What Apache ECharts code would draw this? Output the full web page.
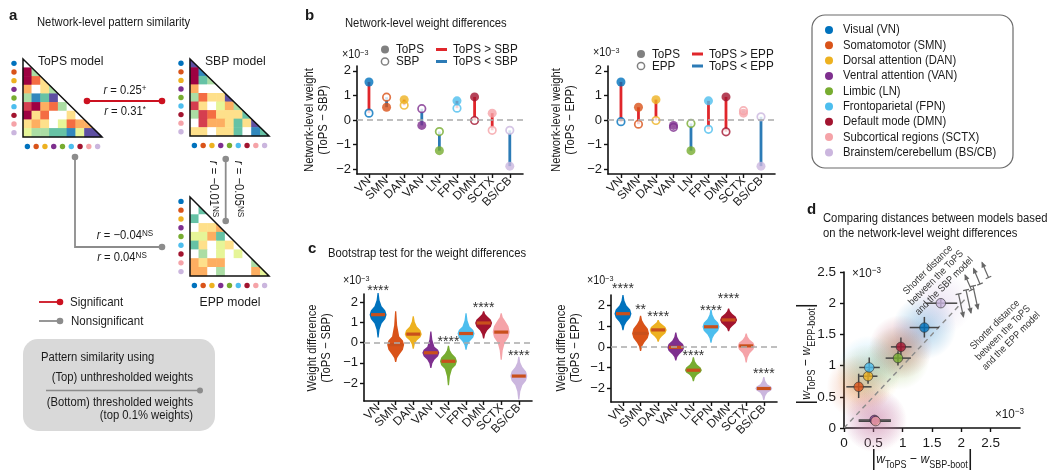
<!DOCTYPE html>
<html><head><meta charset="utf-8">
<script src="https://cdn.jsdelivr.net/npm/echarts@6/dist/echarts.min.js"></script>
<style>html,body{margin:0;padding:0;background:#fff}#c{width:1047px;height:472px}</style>
</head><body><div id="c"></div>
<script>
// ================= DATA =================
const networks = ['VN','SMN','DAN','VAN','LN','FPN','DMN','SCTX','BS/CB'];
const networkNames = ['Visual (VN)','Somatomotor (SMN)','Dorsal attention (DAN)','Ventral attention (VAN)','Limbic (LN)','Frontoparietal (FPN)','Default mode (DMN)','Subcortical regions (SCTX)','Brainstem/cerebellum (BS/CB)'];
const networkColors = ['#0072bd','#d95319','#edb120','#7e2f8e','#77ac30','#4dbeee','#a2142f','#f5a3a8','#cbb6de'];

// Panel a: lower-triangular network-level weight patterns (colour class -5..5, 0 = white)
const matTops = [
  [0],
  [5,-2],
  [5,3,1],
  [2,0,1,-2],
  [-2,-4,-3,-5,0],
  [4,5,2,3,-2,0],
  [5,1,3,0,0,1,0],
  [1,2,1,0,-1,3,2,2],
  [-1,-2,-2,-3,-3,-4,-1,-5,-5]
];
const matSbp = [
  [-5],
  [5,-4],
  [5,-3,-2],
  [2,0,0,0],
  [-2,3,1,1,-5],
  [4,1,0,-1,2,-2],
  [-2,4,3,1,1,1,-3],
  [0,4,2,2,1,-3,1,-5],
  [1,1,0,1,1,-3,0,-4,-3]
];
const matEpp = [
  [0],
  [0,-3],
  [-3,0,0],
  [0,1,1,2],
  [-1,-1,2,-3,0],
  [-3,1,0,-1,1,0],
  [0,-2,0,-1,0,-1,0],
  [2,1,2,2,0,0,0,-2],
  [2,2,0,-2,0,0,0,2,-1]
];
const matColorClasses = [-5,-4,-3,-2,-1,0,1,2,3,4,5];
const matColors = ['#5e4fa2','#3288bd','#66c2a5','#abdda4','#e6f598','#ffffff','#fee08b','#fdae61','#f46d43','#d53e4f','#9e0142'];

// Panel b: network-level weights (x1e-3)
const bTops = [1.55,0.52,0.83,-0.22,-1.25,0.78,0.94,0.28,-1.88];
const bSbp  = [0.28,0.93,0.60,0.46,-0.47,0.48,-0.02,-0.42,-0.42];
const bEpp  = [-0.07,-0.17,-0.02,-0.30,-0.14,-0.38,-0.48,0.38,0.13];
const bTicks = [-2,-1,0,1,2];

// Panel c: bootstrap distributions (median, min, max, body low, body high)
const cSbpMed = [1.38,-0.10,0.42,-0.50,-0.92,0.45,0.97,0.52,-1.65];
const cSbpLo  = [0.25,-0.95,-0.30,-1.25,-2.10,-0.35,0.20,-0.85,-2.80];
const cSbpHi  = [2.45,1.55,1.30,0.55,-0.15,1.45,1.55,1.45,-0.70];
const cSbpBLo = [0.95,-0.60,0.10,-0.85,-1.30,0.05,0.60,0.00,-2.10];
const cSbpBHi = [1.80,0.30,0.80,-0.20,-0.55,0.80,1.30,1.10,-1.20];
const cSbpStars = ['****','','','','****','','****','','****'];
const cSbpStarY = [2.67,0,0,0,0.15,0,1.83,0,-0.53];

const cEppMed = [1.60,0.65,0.82,-0.02,-1.12,0.97,1.30,0.05,-2.00];
const cEppLo  = [0.80,-0.20,0.25,-0.65,-1.65,0.20,0.75,-0.75,-2.55];
const cEppHi  = [2.50,1.50,1.30,0.70,-0.50,1.80,1.85,0.65,-1.45];
const cEppBLo = [1.20,0.20,0.50,-0.35,-1.35,0.60,1.00,-0.30,-2.20];
const cEppBHi = [2.00,1.10,1.10,0.30,-0.85,1.35,1.60,0.35,-1.80];
const cEppStars = ['****','**','****','','****','****','****','','****'];
const cEppStarY = [2.94,1.93,1.60,0,-0.30,1.88,2.46,0,-1.16];
const cTicks = [-2,-1,0,1,2];

// Panel d: mean distances with spread (x1e-3)
const dX   = [1.37,0.25,0.41,0.52,0.92,0.43,0.97,0.54,1.65];
const dY   = [1.61,0.66,0.83,0.13,1.12,0.97,1.30,0.11,2.00];
const dXlo = [1.12,0.04,0.26,0.25,0.71,0.26,0.80,0.25,1.40];
const dXhi = [1.62,0.47,0.57,0.80,1.14,0.61,1.15,0.80,1.93];
const dYlo = [1.45,0.48,0.71,0.05,1.00,0.82,1.17,0.04,1.93];
const dYhi = [1.78,0.87,0.94,0.20,1.23,1.13,1.45,0.18,2.07];
const dDiagonal = [[0,0],[2.1,2.1]];
const dTicks = [0,0.5,1,1.5,2,2.5];

// ================= STYLE / LAYOUT =================
const FONT = 'Liberation Sans, Arial, Helvetica, sans-serif';
const INK = '#1a1a1a';
const RED = '#e0262b', BLUE = '#2c7bb6', GRAY = '#8c8c8c', MEDC = '#c9501c';
const SX = 0.9; // horizontal compression of the figure's typeface

const matGrids = [
  {left:23, top:59, width:79, height:78},
  {left:190, top:59, width:79, height:77},
  {left:190, top:197, width:79, height:79}
];

const g = [];
function T(x, y, text, o) {
  o = o || {};
  const st = {text, x:0, y:0, fill:o.color||INK, fontSize:o.size||12, fontFamily:FONT,
    fontWeight:o.bold?'bold':'normal', fontStyle:o.italic?'italic':'normal',
    align:o.align||'left', verticalAlign:o.va||'middle', textAlign:o.align||'left', textVerticalAlign:o.va||'middle'};
  if (o.rich) st.rich = o.rich;
  if (o.lh) st.lineHeight = o.lh;
  const sx = o.sx !== undefined ? o.sx : SX;
  g.push({type:'text', x, y, rotation:o.rot||0, scaleX:sx, z:o.z||50, silent:true, style:st});
}
function L(pts, color, w, o) {
  o = o || {};
  g.push({type:'polyline', z:o.z||40, silent:true, shape:{points:pts}, style:{stroke:color, lineWidth:w, fill:null, lineDash:o.dash||null}});
}
function C(x, y, r, fill, stroke, lw) {
  g.push({type:'circle', z:45, silent:true, shape:{cx:x, cy:y, r}, style:{fill, stroke:stroke||null, lineWidth:lw||0}});
}
function richSet(size) {
  return {
    i:{fontStyle:'italic', fontSize:size, fontFamily:FONT, fill:INK},
    n:{fontSize:size, fontFamily:FONT, fill:INK},
    s:{fontSize:Math.round(size*0.68), fontFamily:FONT, fill:INK, verticalAlign:'top'},
    w:{fontStyle:'italic', fontSize:size, fontFamily:FONT, fill:INK},
    sub:{fontSize:Math.round(size*0.72), fontFamily:FONT, fill:INK, verticalAlign:'bottom'},
    bar:{fontSize:size+8, fontFamily:FONT, fill:INK}
  };
}
function arrow(x1, y1, x2, y2, color) {
  L([[x1,y1],[x2,y2]], color, 1.2);
  const dx = x2-x1, dy = y2-y1, len = Math.hypot(dx,dy), ux = dx/len, uy = dy/len;
  const hl = 5, hw = 2.6;
  g.push({type:'polygon', z:41, silent:true, shape:{points:[[x2+ux*1,y2+uy*1],[x2-ux*hl-uy*hw, y2-uy*hl+ux*hw],[x2-ux*hl+uy*hw, y2-uy*hl-ux*hw]]}, style:{fill:color}});
  L([[x1-uy*3, y1+ux*3],[x1+uy*3, y1-ux*3]], color, 1.2);
}

// ---------- Panel a ----------
T(9, 16, 'a', {bold:true, size:15, sx:1});
T(37, 23, 'Network-level pattern similarity', {size:12.5});
matGrids.forEach((gr, k) => {
  const {left, top, width, height} = gr;
  g.push({type:'polygon', z:30, silent:true, shape:{points:[[left-1,top-1],[left+width+2,top-1],[left+width+2,top+height+1]]}, style:{fill:'#fff'}});
  g.push({type:'polygon', z:31, silent:true, shape:{points:[[left,top],[left,top+height],[left+width,top+height]]}, style:{fill:null, stroke:'#111', lineWidth:1.5}});
  const cw = width/9, ch = height/9;
  for (let i = 0; i < 9; i++) {
    C(left-9, top + (i+0.5)*ch, 2.7, networkColors[i]);
    C(left + (i+0.5)*cw, top + height + 9.5, 2.7, networkColors[i]);
  }
});
T(38, 61, 'ToPS model', {size:13.5});
T(205, 61, 'SBP model', {size:13.5});
T(230, 302, 'EPP model', {size:13.5, align:'center'});
L([[87,101],[162,101]], '#cc1120', 1.8);
C(87,101,3.3,'#cc1120'); C(162,101,3.3,'#cc1120');
T(125, 91, '{i|r} = 0.25{s|+}', {size:12.5, align:'center', rich:richSet(12.5)});
T(125, 112, '{i|r} = 0.31{s|*}', {size:12.5, align:'center', rich:richSet(12.5)});
L([[75,157],[75,247],[162,247]], GRAY, 1.8);
C(75,157,3.3,GRAY); C(162,247,3.3,GRAY);
T(125, 236, '{i|r} = −0.04{s|NS}', {size:12.5, align:'center', rich:richSet(12.5)});
T(122, 258, '{i|r} = 0.04{s|NS}', {size:12.5, align:'center', rich:richSet(12.5)});
L([[225.7,159],[225.7,221]], GRAY, 1.8);
C(225.7,159,3.3,GRAY); C(225.7,221,3.3,GRAY);
T(213, 189, '{i|r} = −0.01{s|NS}', {size:12.5, align:'center', rot:-Math.PI/2, rich:richSet(12.5)});
T(238, 189, '{i|r} = −0.05{s|NS}', {size:12.5, align:'center', rot:-Math.PI/2, rich:richSet(12.5)});
L([[39,302],[60,302]], '#cc1120', 1.8); C(60,302,3.3,'#cc1120');
T(70, 302, 'Significant', {size:12.8});
L([[39,321],[60,321]], GRAY, 1.8); C(60,321,3.3,GRAY);
T(71, 321, 'Nonsignificant', {size:12.8});
g.push({type:'rect', z:20, silent:true, shape:{x:23, y:339, width:192, height:92, r:15}, style:{fill:'#d9d9d9'}});
T(41, 358, 'Pattern similarity using', {size:12.5});
T(193, 378, '(Top) unthresholded weights', {size:12.5, align:'right'});
L([[46,390.5],[200,390.5]], GRAY, 1.4); C(200,390.5,3,GRAY);
T(193, 403, '(Bottom) thresholded weights', {size:12.5, align:'right'});
T(193, 416, '(top 0.1% weights)', {size:12.5, align:'right'});

// ---------- Panel b ----------
T(305, 16, 'b', {bold:true, size:15, sx:1});
T(345, 24, 'Network-level weight differences', {size:12.5});
function bLegend(x0, y0, y1, other) {
  C(x0, y0, 4, '#808080');
  T(x0+11, y0, 'ToPS', {size:13});
  C(x0, y1, 3.6, '#fff', '#808080', 1.5);
  T(x0+11, y1, other, {size:13});
  L([[x0+51,y0],[x0+62,y0]], RED, 3);
  T(x0+68, y0, 'ToPS > ' + other, {size:13});
  L([[x0+51,y1],[x0+62,y1]], BLUE, 3);
  T(x0+68, y1, 'ToPS < ' + other, {size:13});
}
bLegend(385, 49.5, 61.5, 'SBP');
bLegend(641, 54, 66, 'EPP');
T(342, 55, '×10{s|−3}', {size:12, rich:richSet(12)});
T(593, 53, '×10{s|−3}', {size:12, rich:richSet(12)});
T(317, 120, 'Network-level weight\n(ToPS − SBP)', {size:12.5, align:'center', rot:Math.PI/2, lh:14});
T(564, 120, 'Network-level weight\n(ToPS − EPP)', {size:12.5, align:'center', rot:Math.PI/2, lh:14});

g.push({type:'rect', z:20, silent:true, shape:{x:812, y:15, width:201, height:153, r:13}, style:{fill:null, stroke:'#6a6a6a', lineWidth:1.2}});
networkNames.forEach((nm, i) => {
  C(829, 30 + i*15.3, 4, networkColors[i]);
  T(843, 30 + i*15.3, nm, {size:12.5});
});

// ---------- Panel c ----------
T(308, 249, 'c', {bold:true, size:15, sx:1});
T(328, 254, 'Bootstrap test for the weight differences', {size:12.5});
T(343, 281, '×10{s|−3}', {size:12, rich:richSet(12)});
T(587, 281, '×10{s|−3}', {size:12, rich:richSet(12)});
T(320, 348, 'Weight difference\n(ToPS − SBP)', {size:12.5, align:'center', rot:Math.PI/2, lh:14});
T(569, 348, 'Weight difference\n(ToPS − EPP)', {size:12.5, align:'center', rot:Math.PI/2, lh:14});

// ---------- Panel d ----------
T(807, 210, 'd', {bold:true, size:15, sx:1});
T(823, 219, 'Comparing distances between models based', {size:12.5});
T(823, 233.5, 'on the network-level weight differences', {size:12.5});
T(852, 273, '×10{s|−3}', {size:13, rich:richSet(13)});
T(995, 414, '×10{s|−3}', {size:13, rich:richSet(13)});
T(806, 354, '{bar||}{w|w}{sub|ToPS}{n| − }{w|w}{sub|EPP-boot}{bar||}', {size:13.5, align:'center', rot:Math.PI/2, rich:richSet(13.5)});
T(922, 459, '{bar||}{w|w}{sub|ToPS}{n| − }{w|w}{sub|SBP-boot}{bar||}', {size:13.5, align:'center', rich:richSet(13.5)});
T(936, 278, 'Shorter distance\nbetween the ToPS\nand the SBP model', {size:10, align:'center', rot:Math.PI/4, lh:11.5, color:'#333'});
T(1003, 333, 'Shorter distance\nbetween the ToPS\nand the EPP model', {size:10, align:'center', rot:Math.PI/4, lh:11.5, color:'#333'});
[[971.5,290,965,275],[980,284,973.5,268.5],[988.5,277.5,982,262.5]].forEach(a => arrow(a[0],a[1],a[2],a[3],'#666'));
[[958.5,294,963.5,317],[966,290,971,313],[973,286,978,309]].forEach(a => arrow(a[0],a[1],a[2],a[3],'#666'));

// ================= CHART =================
function hexToRgba(h, a) {
  const n = parseInt(h.slice(1), 16);
  return `rgba(${(n>>16)&255},${(n>>8)&255},${n&255},${a})`;
}
function matData(m) { const d = []; m.forEach((row, r) => row.forEach((v, c) => d.push([c, r, v]))); return d; }
const idx9 = networks.map((_, i) => i);
const minusFmt = v => (v < 0 ? '−' : '') + Math.abs(v);

const axLine = {show:true, onZero:false, lineStyle:{color:'#111', width:1.6}};
function tickCfg(vals) { return {show:true, customValues:vals, length:4, lineStyle:{color:'#111', width:1.4}}; }
function valX(gi, min, max) {
  return {type:'value', gridIndex:gi, min, max, axisLine:axLine, axisTick:tickCfg(idx9),
    axisLabel:{show:true, customValues:idx9, formatter:v => networks[Math.round(v)], rotate:45, fontSize:12, fontFamily:FONT, color:INK, margin:5},
    splitLine:{show:false}};
}
function valY(gi, min, max, ticks) {
  return {type:'value', gridIndex:gi, min, max, axisLine:axLine, axisTick:tickCfg(ticks),
    axisLabel:{show:true, customValues:ticks, formatter:minusFmt, fontSize:13, fontFamily:FONT, color:INK, margin:6, showMinLabel:true, showMaxLabel:true},
    splitLine:{show:false}};
}

const grids = [
  matGrids[0], matGrids[1], matGrids[2],
  {left:357, top:66, width:166, height:108},
  {left:608, top:66, width:167, height:108},
  {left:364, top:294, width:168, height:107},
  {left:611, top:295, width:166, height:107},
  {left:844, top:272, width:176, height:156}
];
const xAxes = [], yAxes = [];
for (let k = 0; k < 3; k++) {
  xAxes.push({type:'category', gridIndex:k, data:idx9, show:false});
  yAxes.push({type:'category', gridIndex:k, data:idx9, inverse:true, show:false});
}
xAxes.push(valX(3, -0.68, 8.75)); yAxes.push(valY(3, -2.2, 2.2, bTicks));
xAxes.push(valX(4, -0.74, 8.8));  yAxes.push(valY(4, -2.2, 2.2, bTicks));
xAxes.push(valX(5, -0.8, 8.75));  yAxes.push(valY(5, -2.88, 2.4, cTicks));
xAxes.push(valX(6, -0.68, 8.75)); yAxes.push(valY(6, -2.65, 2.5, cTicks));
xAxes.push({type:'value', gridIndex:7, min:0, max:3, axisLine:axLine, axisTick:tickCfg(dTicks),
  axisLabel:{show:true, customValues:dTicks, fontSize:13.5, fontFamily:FONT, color:INK, margin:8, showMinLabel:true, showMaxLabel:true}, splitLine:{show:false}});
yAxes.push({type:'value', gridIndex:7, min:0, max:2.5, axisLine:axLine, axisTick:tickCfg(dTicks),
  axisLabel:{show:true, customValues:dTicks, fontSize:13.5, fontFamily:FONT, color:INK, margin:8, showMinLabel:true, showMaxLabel:true}, splitLine:{show:false}});

const series = [];
[matTops, matSbp, matEpp].forEach((m, k) => {
  series.push({type:'heatmap', xAxisIndex:k, yAxisIndex:k, data:matData(m), itemStyle:{borderWidth:0}, emphasis:{disabled:true}, silent:true});
});

function zeroLine(ai) {
  return {type:'line', xAxisIndex:ai, yAxisIndex:ai, data:[], z:1, silent:true,
    markLine:{silent:true, symbol:['none','none'], label:{show:false}, animation:false,
      lineStyle:{type:[6,4], color:'#ababab', width:1.5}, data:[{yAxis:0}]}};
}

function lollipop(ai, tops, other) {
  series.push(zeroLine(ai));
  series.push({type:'custom', xAxisIndex:ai, yAxisIndex:ai, z:3, silent:true,
    data: idx9.map(i => [i, tops[i], other[i]]),
    encode:{x:0, y:[1,2]},
    renderItem:(params, api) => {
      const i = api.value(0), a = api.value(1), b = api.value(2);
      const p1 = api.coord([i, a]), p2 = api.coord([i, b]);
      return {type:'line', shape:{x1:p1[0], y1:p1[1], x2:p2[0], y2:p2[1]}, style:{stroke: a > b ? RED : BLUE, lineWidth:2.8}};
    }});
  series.push({type:'scatter', xAxisIndex:ai, yAxisIndex:ai, z:4, silent:true, symbolSize:7.5,
    data: idx9.map(i => ({value:[i, other[i]], itemStyle:{color:'#fff', borderColor:networkColors[i], borderWidth:1.7}}))});
  series.push({type:'scatter', xAxisIndex:ai, yAxisIndex:ai, z:5, silent:true, symbolSize:9,
    data: idx9.map(i => ({value:[i, tops[i]], itemStyle:{color:networkColors[i]}}))});
}
lollipop(3, bTops, bSbp);
lollipop(4, bTops, bEpp);

function violins(ai, med, lo, hi, bLo, bHi, stars, starY) {
  series.push(zeroLine(ai));
  series.push({type:'custom', xAxisIndex:ai, yAxisIndex:ai, z:3, silent:true,
    data: idx9.map(i => [i, med[i], lo[i], hi[i], bLo[i], bHi[i], starY[i]]),
    encode:{x:0, y:[2,3]},
    renderItem:(params, api) => {
      const i = api.value(0), m = api.value(1), l = api.value(2), h = api.value(3), bl = api.value(4), bh = api.value(5), sy = api.value(6);
      const cx = api.coord([i, m])[0];
      const Y = v => api.coord([i, v])[1];
      const W = 8.5;
      const prof = [[l,0.6],[l+(bl-l)*0.55,1.5],[bl,W*0.42],[(bl+m)/2,W*0.85],[m,W],[(m+bh)/2,W*0.85],[bh,W*0.42],[bh+(h-bh)*0.45,1.5],[h,0.6]];
      const right = prof.map(p => [cx + p[1], Y(p[0])]);
      const left = prof.slice().reverse().map(p => [cx - p[1], Y(p[0])]);
      const children = [
        {type:'polygon', shape:{points:right.concat(left)}, style:{fill:networkColors[params.dataIndex]}},
        {type:'rect', shape:{x:cx-7, y:Y(m)-1.6, width:14, height:3.2}, style:{fill:MEDC}}
      ];
      const st = stars[params.dataIndex];
      if (st) children.push({type:'text', x:cx, y:Y(sy)+3, style:{text:st, align:'center', verticalAlign:'middle', textAlign:'center', textVerticalAlign:'middle', fontSize:14, fontFamily:FONT, fill:'#333'}});
      return {type:'group', children};
    }});
}
violins(5, cSbpMed, cSbpLo, cSbpHi, cSbpBLo, cSbpBHi, cSbpStars, cSbpStarY);
violins(6, cEppMed, cEppLo, cEppHi, cEppBLo, cEppBHi, cEppStars, cEppStarY);

// Panel d
series.push({type:'scatter', xAxisIndex:7, yAxisIndex:7, z:1, silent:true, symbolSize:64,
  data: idx9.map(i => ({value:[dX[i], dY[i]], itemStyle:{color:{type:'radial', x:0.5, y:0.5, r:0.5,
    colorStops:[{offset:0, color:hexToRgba(networkColors[i], 0.42)}, {offset:0.6, color:hexToRgba(networkColors[i], 0.18)}, {offset:1, color:hexToRgba(networkColors[i], 0)}]}}}))});
series.push({type:'line', xAxisIndex:7, yAxisIndex:7, z:2, silent:true, symbol:'none', data:dDiagonal,
  lineStyle:{type:[5,4], color:'#8a8a8a', width:1.4}});
series.push({type:'custom', xAxisIndex:7, yAxisIndex:7, z:3, silent:true,
  data: idx9.map(i => [dX[i], dY[i], dXlo[i], dXhi[i], dYlo[i], dYhi[i]]),
  encode:{x:[0,2,3], y:[1,4,5]},
  renderItem:(params, api) => {
    const x = api.value(0), y = api.value(1);
    const a = api.coord([api.value(2), y]), b = api.coord([api.value(3), y]);
    const c = api.coord([x, api.value(4)]), d = api.coord([x, api.value(5)]);
    return {type:'group', children:[
      {type:'line', shape:{x1:a[0], y1:a[1], x2:b[0], y2:b[1]}, style:{stroke:'#444', lineWidth:1.5}},
      {type:'line', shape:{x1:c[0], y1:c[1], x2:d[0], y2:d[1]}, style:{stroke:'#444', lineWidth:1.5}}
    ]};
  }});
series.push({type:'scatter', xAxisIndex:7, yAxisIndex:7, z:4, silent:true, symbolSize:9.5,
  data: idx9.map(i => ({value:[dX[i], dY[i]], itemStyle:{color:networkColors[i], borderColor:'#333', borderWidth:0.8}}))});

const chart = echarts.init(document.getElementById('c'), null, {renderer:'canvas'});
chart.setOption({
  animation:false,
  backgroundColor:'#fff',
  textStyle:{fontFamily:FONT},
  grid:grids,
  xAxis:xAxes,
  yAxis:yAxes,
  visualMap:{type:'piecewise', show:false, seriesIndex:[0,1,2], dimension:2,
    pieces: matColorClasses.map((v, k) => ({value:v, color:matColors[k]}))},
  series,
  graphic:{elements:g}
});
</script>
</body></html>
